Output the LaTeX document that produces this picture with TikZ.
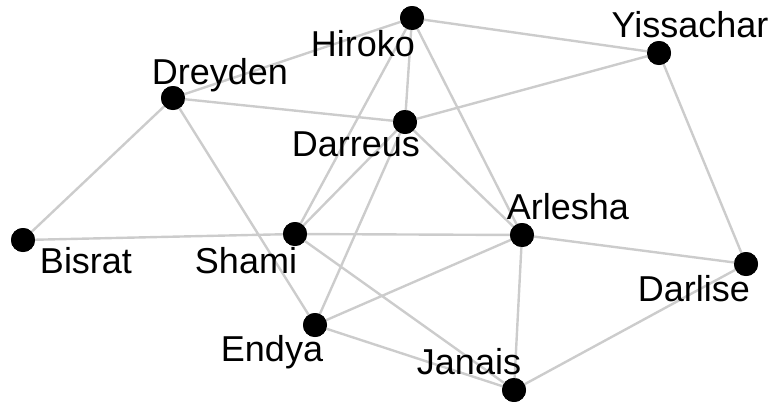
\documentclass[tikz,border=0pt]{standalone}
\usepackage{fontspec}
\setmainfont{Liberation Sans}
\begin{document}
\begin{tikzpicture}[x=1pt,y=-1pt,
  edge/.style={draw=black!20, line width=2.4pt},
  dot/.style={circle, fill=black, minimum size=24pt, inner sep=0pt},
  lbl/.style={anchor=base, inner sep=0pt, font=\fontsize{36}{42}\selectfont}]
\useasboundingbox (0,0) rectangle (772,402);
% dot anchors
\node[dot] (hir) at (412,18) {};
\node[dot] (yis) at (659,53) {};
\node[dot] (dre) at (173,98) {};
\node[dot] (dar) at (405,122) {};
\node[dot] (bis) at (23,240) {};
\node[dot] (sha) at (295,234) {};
\node[dot] (arl) at (522,235) {};
\node[dot] (dal) at (746,264) {};
\node[dot] (end) at (315,325) {};
\node[dot] (jan) at (514,390) {};
% edges
\path[edge]
  (hir.center) -- (yis.center)
  (hir.center) -- (dre.center)
  (hir.center) -- (dar.center)
  (hir.center) -- (sha.center)
  (hir.center) -- (arl.center)
  (yis.center) -- (dar.center)
  (yis.center) -- (dal.center)
  (dre.center) -- (dar.center)
  (dre.center) -- (bis.center)
  (dre.center) -- (end.center)
  (dar.center) -- (sha.center)
  (dar.center) -- (end.center)
  (dar.center) -- (arl.center)
  (bis.center) -- (sha.center)
  (sha.center) -- (arl.center)
  (sha.center) -- (jan.center)
  (arl.center) -- (end.center)
  (arl.center) -- (jan.center)
  (arl.center) -- (dal.center)
  (end.center) -- (jan.center)
  (jan.center) -- (dal.center);
% redraw dots on top of the edges
\foreach \n in {hir,yis,dre,dar,bis,sha,arl,dal,end,jan}
  \fill (\n) circle (12pt);
% labels
\node[lbl] (lhir) at (363,56) {Hiroko};
\node[lbl] (lyis) at (690,37) {Yissachar};
\node[lbl] (ldre) at (220,84) {Dreyden};
\node[lbl] (ldar) at (356,156) {Darreus};
\node[lbl] (lbis) at (86,273) {Bisrat};
\node[lbl] (lsha) at (246,273) {Shami};
\node[lbl] (larl) at (568,219) {Arlesha};
\node[lbl] (ldal) at (694,301) {Darlise};
\node[lbl] (lend) at (272,361) {Endya};
\node[lbl] (ljan) at (469,374) {Janais};
\end{tikzpicture}
\end{document}
